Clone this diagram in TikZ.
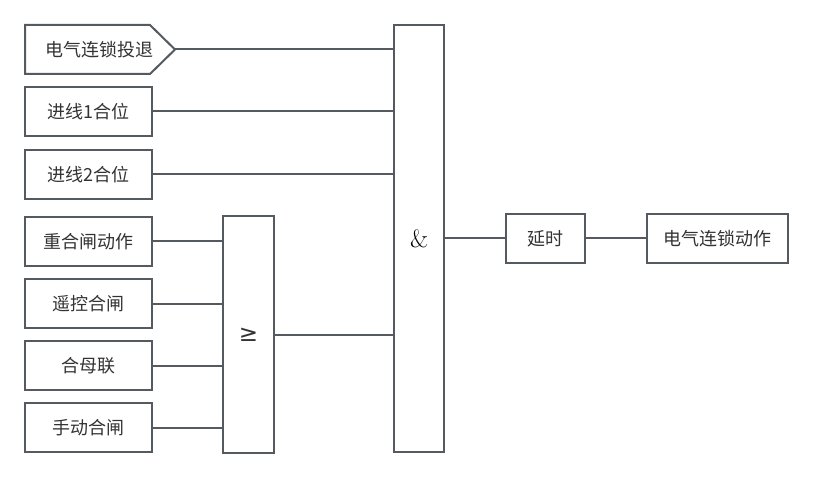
\documentclass[tikz,border=0pt]{standalone}
\usepackage{fontspec}
\newfontfamily\cjk{Noto Sans CJK SC}
\newfontfamily\dvs{DejaVu Sans}
\definecolor{lc}{HTML}{555A60}
\definecolor{tc}{HTML}{333333}
\begin{document}
\begin{tikzpicture}[x=1pt,y=-1pt,
  box/.style={draw=lc, line width=2pt, minimum height=49pt, inner sep=0pt,
    text=tc, font=\cjk\fontsize{18}{18}\selectfont},
  wire/.style={draw=lc, line width=2pt}]
\useasboundingbox (0,0) rectangle (813,478);
% pentagon input
\draw[wire, line join=miter] (25,25) -- (150,25) -- (175,49.5) coordinate (tip) -- (150,74) -- (25,74) -- cycle;
\node[text=tc, font=\cjk\fontsize{18}{18}\selectfont, inner sep=0pt] (b1) at (99.5,49.5) {电气连锁投退};
\node[box, minimum width=127pt] (b2) at (88.5,111.5) {进线1合位};
\node[box, minimum width=127pt] (b3) at (88.5,174.5) {进线2合位};
\node[box, minimum width=127pt] (b4) at (88.5,241.5) {重合闸动作};
\node[box, minimum width=127pt] (b5) at (88.5,303.5) {遥控合闸};
\node[box, minimum width=127pt] (b6) at (88.5,365.5) {合母联};
\node[box, minimum width=127pt] (b7) at (88.5,427.5) {手动合闸};
\node[box, minimum width=51pt, minimum height=236pt, font=\dvs\fontsize{23}{23}\selectfont] (ge) at (248.5,334.5) {≥};
\node[box, minimum width=50pt, minimum height=427pt, text=black, font=\fontsize{25}{25}\selectfont] (and) at (419,238.5) {\&};
\node[box, minimum width=79pt] (ys) at (545.5,238.5) {延时};
\node[box, minimum width=141pt] (out) at (717.5,238.5) {电气连锁动作};
% wires
\draw[wire] (tip) -- (tip -| and.west);
\draw[wire] (b2.east) -- (b2.east -| and.west);
\draw[wire] (b3.east) -- (b3.east -| and.west);
\draw[wire] (b4.east) -- (b4.east -| ge.west);
\draw[wire] (b5.east) -- (b5.east -| ge.west);
\draw[wire] (b6.east) -- (b6.east -| ge.west);
\draw[wire] (b7.east) -- (b7.east -| ge.west);
\draw[wire] (ge.east) -- (ge.east -| and.west);
\draw[wire] (and.east) -- (ys.west);
\draw[wire] (ys.east) -- (out.west);
\end{tikzpicture}
\end{document}
